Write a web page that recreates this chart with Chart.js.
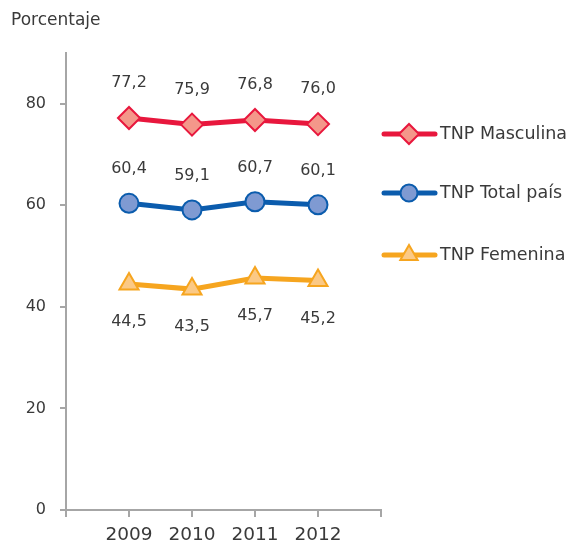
<!DOCTYPE html>
<html>
<head>
<meta charset="utf-8">
<script src="https://cdn.jsdelivr.net/npm/chart.js@4/dist/chart.umd.min.js"></script>
<style>
    html, body { margin: 0; padding: 0; background: #fff; }
    #wrap { width: 570px; height: 544px; position: relative; }
</style>
</head>
<body>
<div id="wrap"><canvas id="chart"></canvas></div>
<script>
    // Chart data
    const years = [2009, 2010, 2011, 2012];
    const tnpMasculina = [77.2, 75.9, 76.8, 76.0];
    const tnpTotal = [60.4, 59.1, 60.7, 60.1];
    const tnpFemenina = [44.5, 43.5, 45.7, 45.2];
    const yTicks = [0, 20, 40, 60, 80];

    const FONT = "'Century Gothic', 'DejaVu Sans', sans-serif";
    const TEXT = '#3a3a3a';
    const AXIS = '#a6a6a6';

    const toPoints = (vals) => vals.map((v, i) => ({ x: years[i], y: v }));

    const series = [
        { label: 'TNP Masculina', data: tnpMasculina, line: '#e8173d', fill: '#f4978a', style: 'rectRot', radius: 11, labelDy: -35 },
        { label: 'TNP Total país', data: tnpTotal, line: '#0b5cad', fill: '#7f9ad2', style: 'circle', radius: 9.5, labelDy: -34 },
        { label: 'TNP Femenina', data: tnpFemenina, line: '#f6a51f', fill: '#fbc985', style: 'triangle', radius: 11, labelDy: 38 }
    ];

    // value labels above / below each point
    const valueLabels = {
        id: 'valueLabels',
        afterDatasetsDraw(chart) {
            const ctx = chart.ctx;
            ctx.save();
            ctx.font = '16px ' + FONT;
            ctx.fillStyle = TEXT;
            ctx.textAlign = 'center';
            ctx.textBaseline = 'middle';
            chart.data.datasets.forEach((ds, di) => {
                const meta = chart.getDatasetMeta(di);
                meta.data.forEach((pt, i) => {
                    const txt = ds.data[i].y.toFixed(1).replace('.', ',');
                    ctx.fillText(txt, pt.x, pt.y + series[di].labelDy);
                });
            });
            ctx.restore();
        }
    };

    // custom legend on the right plus the axis caption
    const sideLegend = {
        id: 'sideLegend',
        afterDraw(chart) {
            const ctx = chart.ctx;
            ctx.save();
            ctx.font = '17px ' + FONT;
            ctx.fillStyle = TEXT;
            ctx.textAlign = 'left';
            ctx.textBaseline = 'middle';
            ctx.fillText('Porcentaje', 11, 21);

            const rows = [134, 193, 255];
            series.forEach((s, i) => {
                const y = rows[i];
                ctx.strokeStyle = s.line;
                ctx.lineWidth = 5;
                ctx.lineCap = 'round';
                ctx.beginPath();
                ctx.moveTo(384, y);
                ctx.lineTo(435, y);
                ctx.stroke();
                ctx.fillStyle = s.fill;
                ctx.strokeStyle = s.line;
                ctx.lineWidth = 2;
                Chart.helpers.drawPoint(ctx, { pointStyle: s.style, radius: s.radius - 1, rotation: 0, borderWidth: 2 }, 409, y);
                ctx.fillStyle = TEXT;
                ctx.font = '17.5px ' + FONT;
                ctx.fillText(s.label, 440, y);
            });
            ctx.restore();
        }
    };

    new Chart(document.getElementById('chart'), {
        type: 'line',
        data: {
            datasets: series.map(s => ({
                label: s.label,
                data: toPoints(s.data),
                borderColor: s.line,
                borderWidth: 5,
                pointStyle: s.style,
                pointRadius: s.radius,
                pointBackgroundColor: s.fill,
                pointBorderColor: s.line,
                pointBorderWidth: 2,
                tension: 0
            }))
        },
        options: {
            responsive: true,
            maintainAspectRatio: false,
            animation: false,
            layout: { padding: { top: 53, right: 189, left: 0, bottom: 0 } },
            plugins: { legend: { display: false }, tooltip: { enabled: false } },
            scales: {
                x: {
                    type: 'linear',
                    min: years[0] - 1,
                    max: years[years.length - 1] + 1,
                    afterFit(scale) { scale.height = 34; },
                    border: { color: AXIS, width: 2 },
                    grid: { drawOnChartArea: false, drawTicks: true, tickLength: 7, color: AXIS, lineWidth: 2 },
                    ticks: {
                        stepSize: 1,
                        padding: 7,
                        color: TEXT,
                        font: { family: FONT, size: 18.5 },
                        callback: (v) => years.includes(v) ? String(v) : ''
                    }
                },
                y: {
                    min: 0,
                    max: 90,
                    afterFit(scale) { scale.width = 66; },
                    afterBuildTicks(scale) {
                        scale.ticks = yTicks.map(v => ({ value: v }));
                    },
                    border: { color: AXIS, width: 2 },
                    grid: { drawOnChartArea: false, drawTicks: true, tickLength: 6, color: AXIS, lineWidth: 2 },
                    ticks: {
                        padding: 14,
                        color: TEXT,
                        font: { family: FONT, size: 16 }
                    }
                }
            }
        },
        plugins: [valueLabels, sideLegend]
    });
</script>
</body>
</html>
